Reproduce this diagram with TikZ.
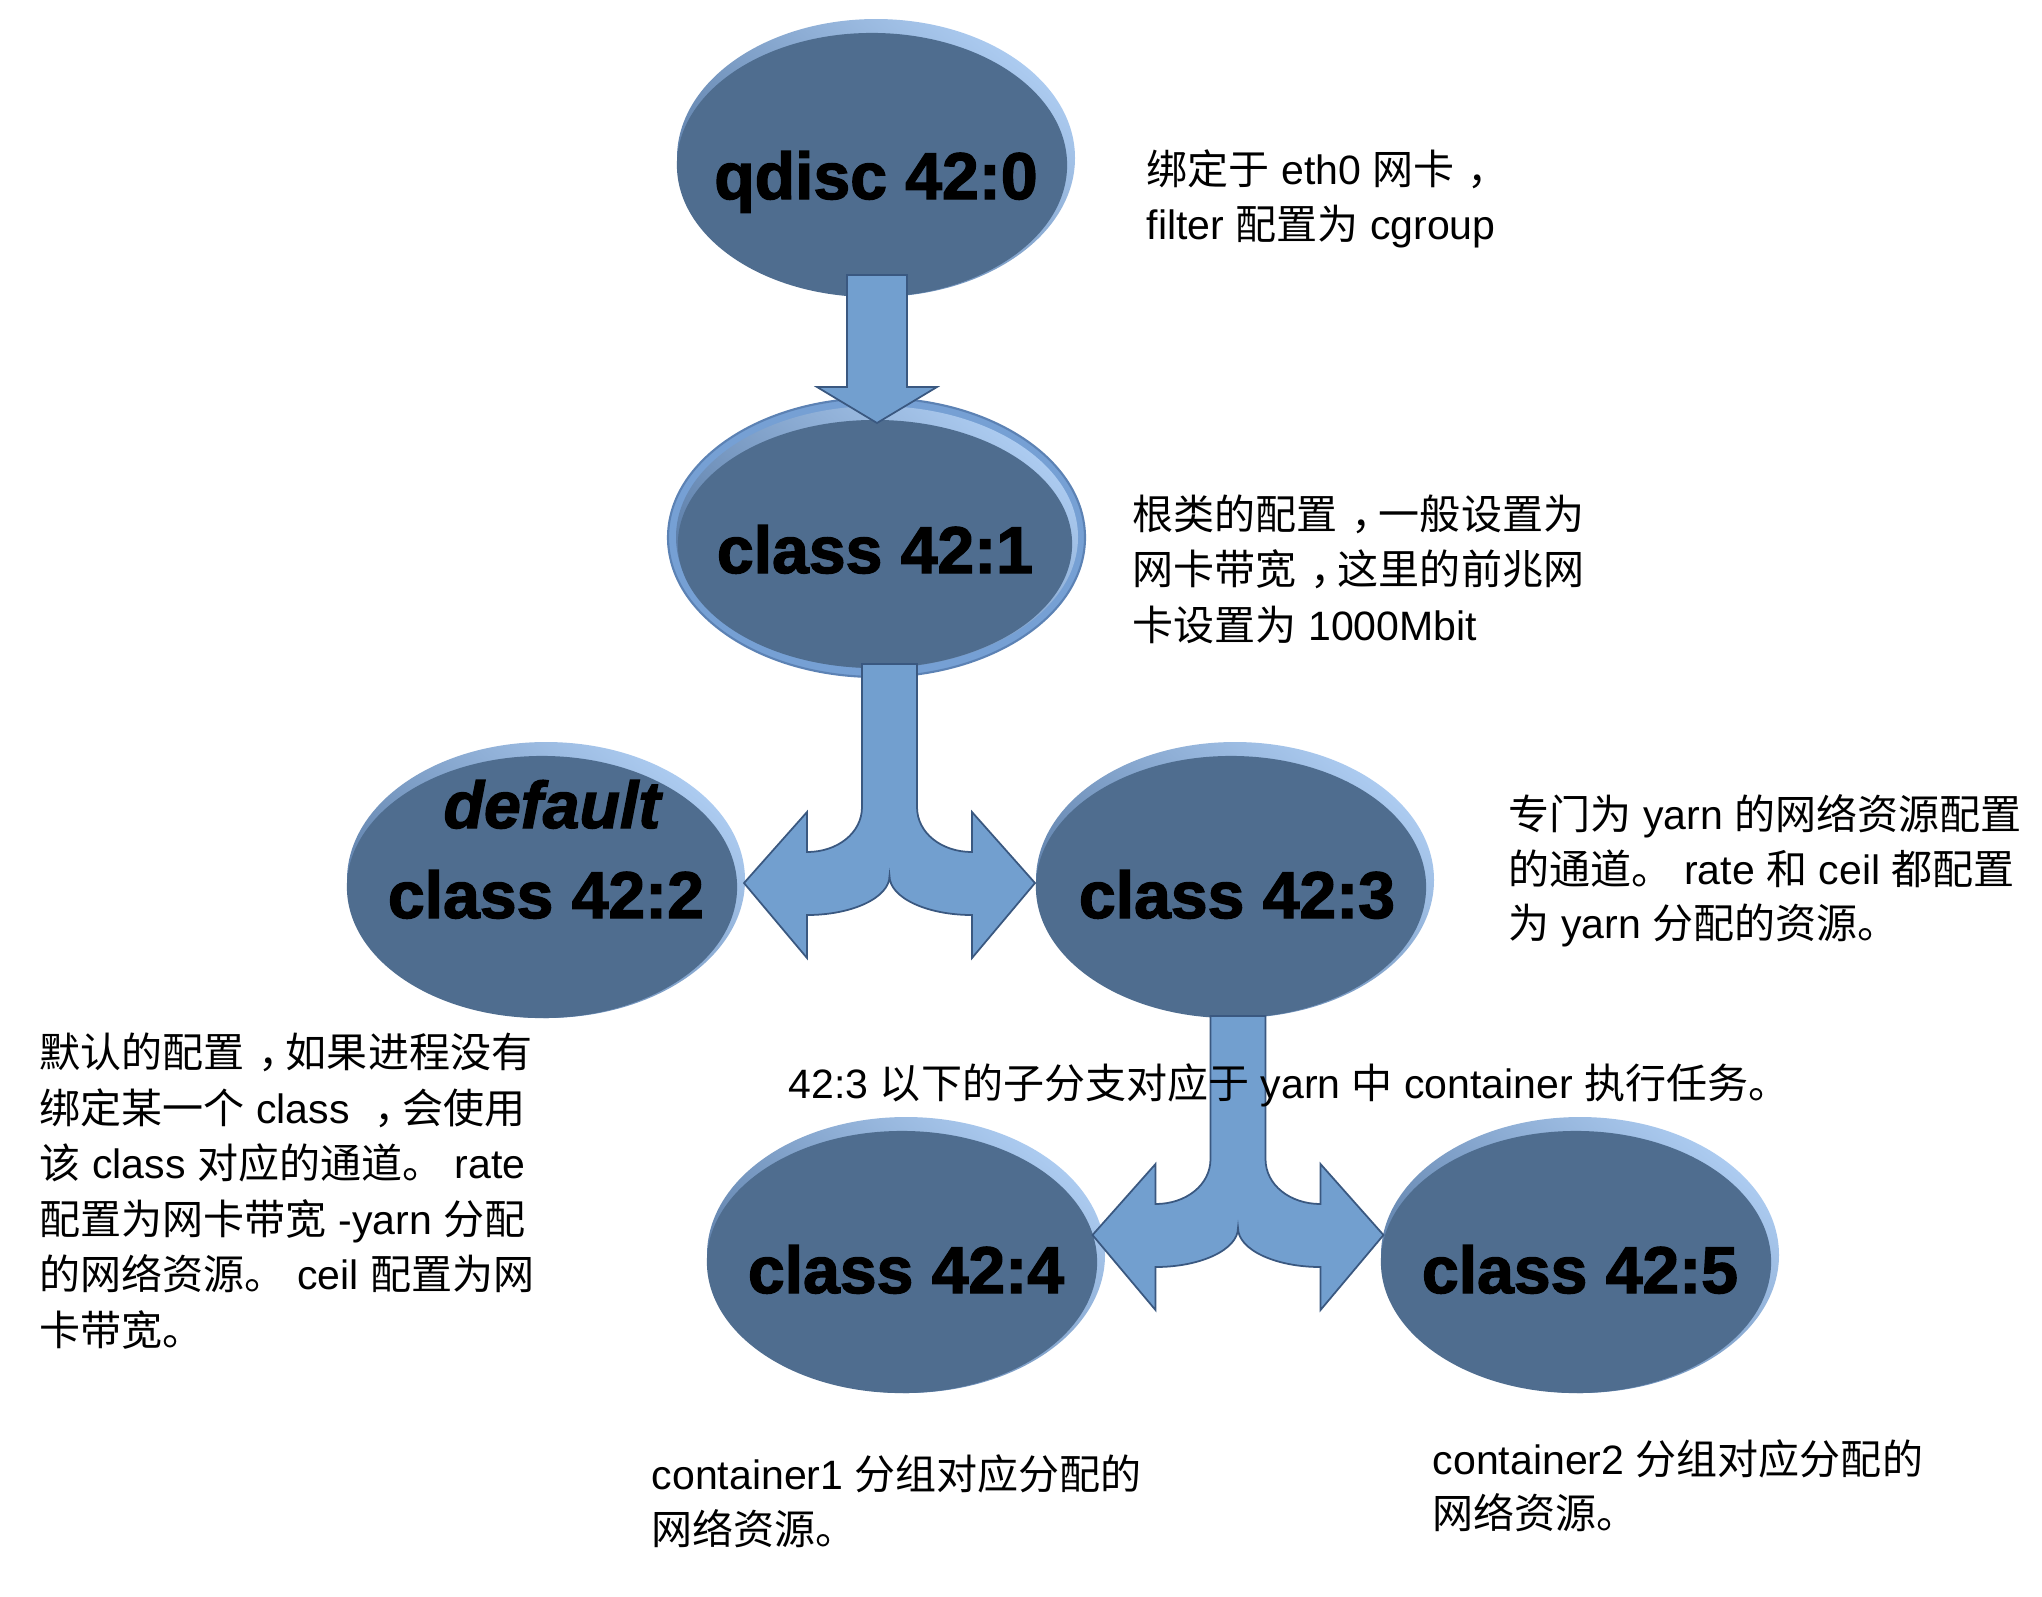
\documentclass[tikz,border=0pt]{standalone}
\usepackage{fontspec}
\setmainfont{Liberation Sans}
\newfontfamily\cjk{Noto Sans CJK SC}
\newfontfamily\heavyfont{Liberation Sans Bold}[FakeBold=2]
\newfontfamily\heavyit{Liberation Sans Bold Italic}[FakeBold=2]
\newcommand\zh[1]{{\cjk #1}}
\newcommand\zc{\makebox[1em][l]{\hspace{0.32em}{\cjk ，}}}
\usetikzlibrary{shapes.geometric}
\definecolor{facecol}{RGB}{79,109,143}
\definecolor{rimlight}{RGB}{172,203,240}
\definecolor{rimdark}{RGB}{86,120,163}
\definecolor{ringcol}{RGB}{118,160,212}
\definecolor{ringline}{RGB}{92,130,180}
\definecolor{arrowfill}{RGB}{114,159,207}
\definecolor{arrowline}{RGB}{58,88,128}
\tikzset{
  face/.style={ellipse, fill=facecol, inner sep=0pt},
  rim/.style={top color=rimlight, bottom color=rimdark, shading angle=-40},
  ell/.style={font=\fontsize{18.8pt}{22pt}\selectfont\heavyfont, anchor=base, inner sep=0pt, text=black},
  note/.style={font=\fontsize{11.67pt}{14pt}\selectfont, anchor=base west, inner sep=0pt, text=black},
  blockarrow/.style={fill=arrowfill, draw=arrowline, line width=0.5pt, line join=miter},
}
\newcommand\splitpath{%
  (27.5,-219) -- (-27.5,-219) -- (-27.5,-76)
  .. controls (-27.5,-50) and (-52.1,-31) .. (-82.5,-31)
  -- (-82.5,-71) -- (-145.5,0) -- (-82.5,75) -- (-82.5,32)
  .. controls (-37,32) and (0,14.5) .. (0,-7)
  .. controls (0,14.5) and (37,32) .. (82.5,32)
  -- (82.5,75) -- (145.5,0) -- (82.5,-71) -- (82.5,-31)
  .. controls (52.1,-31) and (27.5,-50) .. (27.5,-76) -- cycle}
\begin{document}
\begin{tikzpicture}[x=0.01cm, y=-0.01cm]
\fill[white] (0,0) rectangle (2042,1596);
\useasboundingbox (0,0) rectangle (2042,1596);

% ellipses
\shade[rim] (876,158) ellipse [x radius=199, y radius=139];
\node[face, minimum width=3.90cm, minimum height=2.64cm] (e0) at (872,165) {};

\filldraw[fill=ringcol, draw=ringline, line width=0.6pt] (876.5,537.5) ellipse [x radius=208.5, y radius=139.5];
\shade[rim] (877,537) ellipse [x radius=201, y radius=131];
\node[face, minimum width=3.94cm, minimum height=2.48cm] (e1) at (875,544) {};

\shade[rim] (546,880) ellipse [x radius=199, y radius=138];
\node[face, minimum width=3.90cm, minimum height=2.62cm] (e2) at (542,887) {};

\shade[rim] (1235,880) ellipse [x radius=199, y radius=138];
\node[face, minimum width=3.90cm, minimum height=2.62cm] (e3) at (1231,887) {};

\shade[rim] (906,1255) ellipse [x radius=199, y radius=138];
\node[face, minimum width=3.90cm, minimum height=2.62cm] (e4) at (902,1262) {};

\shade[rim] (1580,1255) ellipse [x radius=199, y radius=138];
\node[face, minimum width=3.90cm, minimum height=2.62cm] (e5) at (1576,1262) {};

% block arrows
\draw[blockarrow] (847,275) -- (907,275) -- (907,387) -- (937,387) -- (877,423) -- (817,387) -- (847,387) -- cycle;
\begin{scope}[shift={(889.5,883)}]
  \draw[blockarrow] \splitpath;
\end{scope}
\begin{scope}[shift={(1238,1235)}]
  \draw[blockarrow] \splitpath;
\end{scope}

% ellipse labels
\node[ell] (l0) at (876,199) {qdisc 42:0};
\node[ell] (l1) at (875,573) {class 42:1};
\node[ell] (ld) at (552,828) {\heavyit default};
\node[ell] (l2) at (546,918) {class 42:2};
\node[ell] (l3) at (1237,918) {class 42:3};
\node[ell] (l4) at (906,1293) {class 42:4};
\node[ell] (l5) at (1580,1293) {class 42:5};

% notes
\node[note] (n1a) at (1146,184) {\zh{绑定于} eth0 \zh{网卡}\zc};
\node[note] (n1b) at (1146,239) {filter \zh{配置为} cgroup};

\node[note] (n2a) at (1132,529) {\zh{根类的配置}\zc\zh{一般设置为}};
\node[note] (n2b) at (1132,584) {\zh{网卡带宽}\zc\zh{这里的前兆网}};
\node[note] (n2c) at (1132,640) {\zh{卡设置为} 1000Mbit};

\node[note] (n3a) at (1508,829) {\zh{专门为} yarn \zh{的网络资源配置}};
\node[note] (n3b) at (1508,884) {\zh{的通道。} rate \zh{和} ceil \zh{都配置}};
\node[note] (n3c) at (1508,938) {\zh{为} yarn \zh{分配的资源。}};

\node[note] (n4a) at (39,1067) {\zh{默认的配置}\zc\zh{如果进程没有}};
\node[note] (n4b) at (39,1123) {\zh{绑定某一个} class \zc\zh{会使用}};
\node[note] (n4c) at (39,1178) {\zh{该} class \zh{对应的通道。} rate};
\node[note] (n4d) at (39,1234) {\zh{配置为网卡带宽} -yarn \zh{分配}};
\node[note] (n4e) at (39,1289) {\zh{的网络资源。} ceil \zh{配置为网}};
\node[note] (n4f) at (39,1345) {\zh{卡带宽。}};

\node[note] (n5) at (788,1098) {42:3 \zh{以下的子分支对应于} yarn \zh{中} container \zh{执行任务。}};

\node[note] (n6a) at (651,1489) {container1 \zh{分组对应分配的}};
\node[note] (n6b) at (651,1544) {\zh{网络资源。}};

\node[note] (n7a) at (1432,1474) {container2 \zh{分组对应分配的}};
\node[note] (n7b) at (1432,1528) {\zh{网络资源。}};
\end{tikzpicture}
\end{document}
